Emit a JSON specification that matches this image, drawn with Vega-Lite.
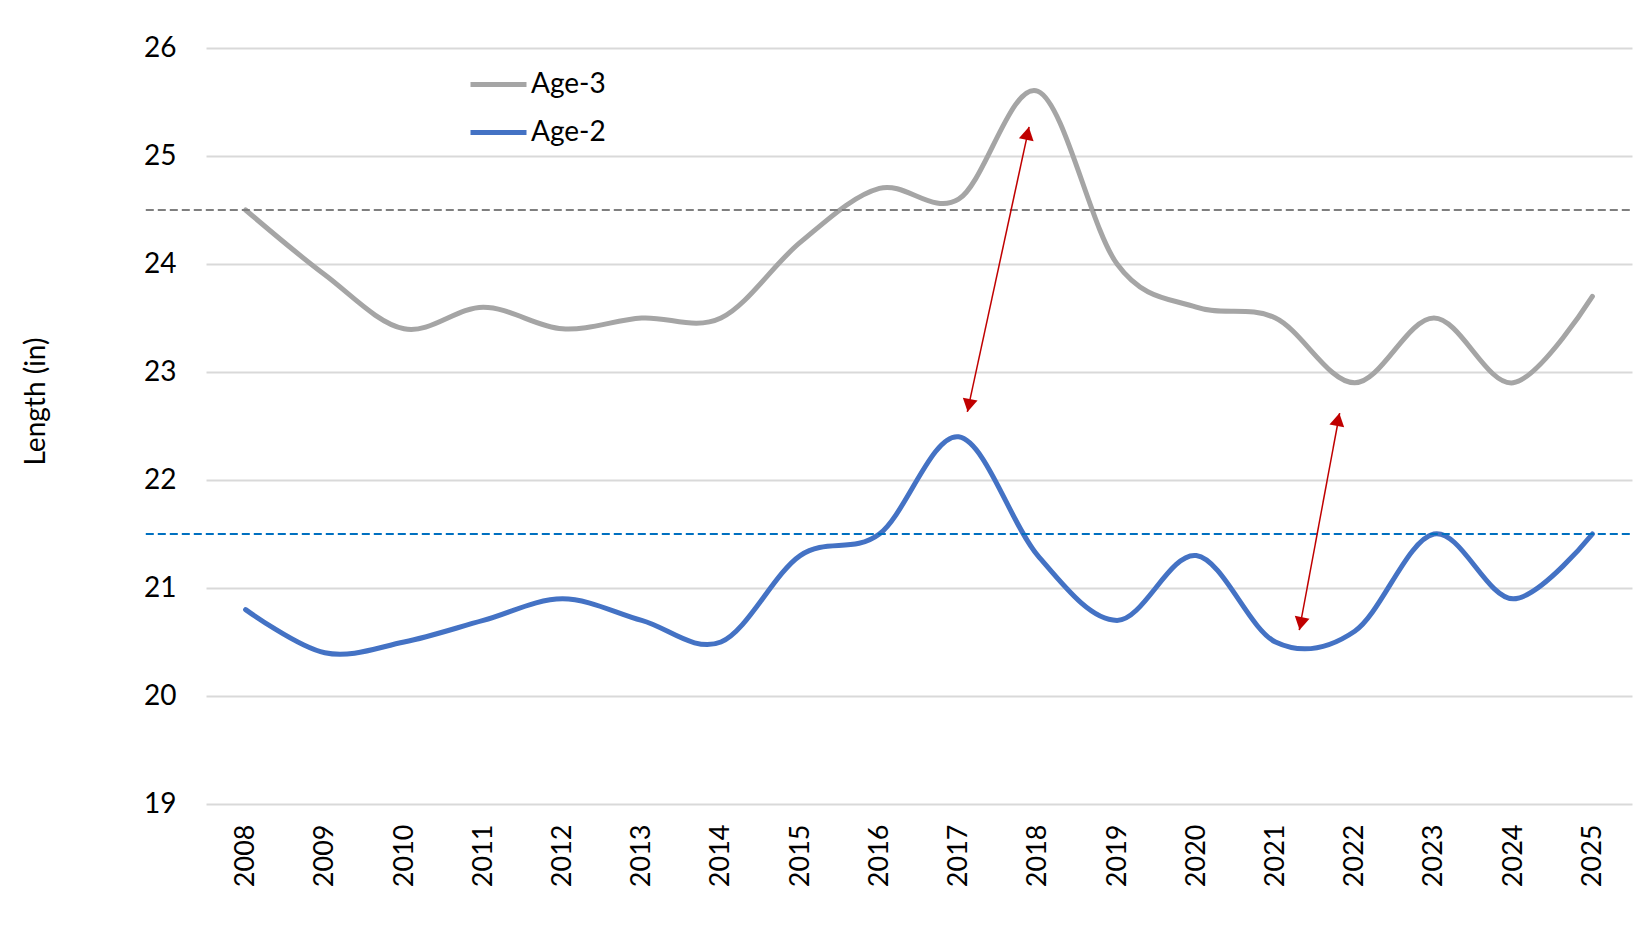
{
  "$schema": "https://vega.github.io/schema/vega-lite/v6.json",
  "width": 1426,
  "height": 756,
  "autosize": {"type": "none"},
  "padding": {"left": 206, "top": 48, "right": 2, "bottom": 142},
  "background": "white",
  "config": {"view": {"stroke": null}, "font": "Lato"},
  "datasets": {
    "main": [
      {"year": 2008, "series": "Age-3", "length": 24.5},
      {"year": 2009, "series": "Age-3", "length": 23.9},
      {"year": 2010, "series": "Age-3", "length": 23.4},
      {"year": 2011, "series": "Age-3", "length": 23.6},
      {"year": 2012, "series": "Age-3", "length": 23.4},
      {"year": 2013, "series": "Age-3", "length": 23.5},
      {"year": 2014, "series": "Age-3", "length": 23.5},
      {"year": 2015, "series": "Age-3", "length": 24.2},
      {"year": 2016, "series": "Age-3", "length": 24.7},
      {"year": 2017, "series": "Age-3", "length": 24.6},
      {"year": 2018, "series": "Age-3", "length": 25.6},
      {"year": 2019, "series": "Age-3", "length": 24.0},
      {"year": 2020, "series": "Age-3", "length": 23.6},
      {"year": 2021, "series": "Age-3", "length": 23.5},
      {"year": 2022, "series": "Age-3", "length": 22.9},
      {"year": 2023, "series": "Age-3", "length": 23.5},
      {"year": 2024, "series": "Age-3", "length": 22.9},
      {"year": 2025, "series": "Age-3", "length": 23.7},
      {"year": 2008, "series": "Age-2", "length": 20.8},
      {"year": 2009, "series": "Age-2", "length": 20.4},
      {"year": 2010, "series": "Age-2", "length": 20.5},
      {"year": 2011, "series": "Age-2", "length": 20.7},
      {"year": 2012, "series": "Age-2", "length": 20.9},
      {"year": 2013, "series": "Age-2", "length": 20.7},
      {"year": 2014, "series": "Age-2", "length": 20.5},
      {"year": 2015, "series": "Age-2", "length": 21.3},
      {"year": 2016, "series": "Age-2", "length": 21.5},
      {"year": 2017, "series": "Age-2", "length": 22.4},
      {"year": 2018, "series": "Age-2", "length": 21.3},
      {"year": 2019, "series": "Age-2", "length": 20.7},
      {"year": 2020, "series": "Age-2", "length": 21.3},
      {"year": 2021, "series": "Age-2", "length": 20.5},
      {"year": 2022, "series": "Age-2", "length": 20.6},
      {"year": 2023, "series": "Age-2", "length": 21.5},
      {"year": 2024, "series": "Age-2", "length": 20.9},
      {"year": 2025, "series": "Age-2", "length": 21.5}
    ],
    "averages": [
      {"series": "Age-3", "value": 24.5, "from": 2006.74, "to": 2025.5},
      {"series": "Age-2", "value": 21.5, "from": 2006.74, "to": 2025.5}
    ],
    "arrows": [
      {"x": 2017.11, "y": 22.63, "x2": 2017.89, "y2": 25.27},
      {"x": 2021.3, "y": 20.61, "x2": 2021.81, "y2": 22.62}
    ],
    "heads": [
      {"x": 2017.13, "y": 22.69, "end": "start"},
      {"x": 2017.87, "y": 25.21, "end": "end"},
      {"x": 2021.32, "y": 20.67, "end": "start"},
      {"x": 2021.79, "y": 22.56, "end": "end"}
    ]
  },
  "layer": [
    {
      "data": {"name": "main"},
      "mark": {"type": "line", "interpolate": "cardinal", "strokeWidth": 5, "strokeCap": "round"},
      "encoding": {
        "x": {
          "field": "year", "type": "quantitative",
          "scale": {"domain": [2007.5, 2025.5], "nice": false, "zero": false},
          "axis": {
            "title": null, "values": [2008,2009,2010,2011,2012,2013,2014,2015,2016,2017,2018,2019,2020,2021,2022,2023,2024,2025],
            "format": "d", "labelAngle": -90, "labelAlign": "right", "labelBaseline": "middle",
            "labelFontSize": 27, "labelColor": "#000000", "labelPadding": 20, "labelFlush": false, "labelOverlap": false,
            "grid": false, "ticks": false, "domain": false
          }
        },
        "y": {
          "field": "length", "type": "quantitative",
          "scale": {"domain": [19, 26], "nice": false, "zero": false},
          "axis": {
            "title": "Length (in)", "values": [19,20,21,22,23,24,25,26], "format": "d",
            "labelFontSize": 28, "labelColor": "#000000", "labelPadding": 30,
            "grid": true, "gridColor": "#D9D9D9", "gridWidth": 2,
            "ticks": false, "domain": false,
            "titleFontSize": 28, "titleFontWeight": "normal", "titleColor": "#000000",
            "titleX": -170, "titleY": 353, "titleAngle": -90, "titleAlign": "center", "titleBaseline": "middle"
          }
        },
        "color": {
          "field": "series", "type": "nominal",
          "scale": {"domain": ["Age-3", "Age-2"], "range": ["#A5A5A5", "#4472C4"]},
          "legend": {
            "title": null, "orient": "none", "legendX": 290, "legendY": 20, "padding": 0,
            "symbolType": "M-3,0H1", "symbolSize": 784, "symbolStrokeWidth": 5,
            "labelFontSize": 28, "labelColor": "#000000", "labelOffset": 2, "rowPadding": 17
          }
        }
      }
    },
    {
      "data": {"name": "averages"},
      "transform": [{"filter": "datum.series === 'Age-3'"}],
      "mark": {"type": "rule", "color": "#7F7F7F", "strokeWidth": 2, "strokeDash": [8, 4]},
      "encoding": {
        "x": {"field": "from", "type": "quantitative"},
        "x2": {"field": "to"},
        "y": {"field": "value", "type": "quantitative"}
      }
    },
    {
      "data": {"name": "averages"},
      "transform": [{"filter": "datum.series === 'Age-2'"}],
      "mark": {"type": "rule", "color": "#0070C0", "strokeWidth": 2, "strokeDash": [8, 4]},
      "encoding": {
        "x": {"field": "from", "type": "quantitative"},
        "x2": {"field": "to"},
        "y": {"field": "value", "type": "quantitative"}
      }
    },
    {
      "data": {"name": "arrows"},
      "mark": {"type": "rule", "color": "#C00000", "strokeWidth": 1.5},
      "encoding": {
        "x": {"field": "x", "type": "quantitative"},
        "x2": {"field": "x2"},
        "y": {"field": "y", "type": "quantitative"},
        "y2": {"field": "y2"}
      }
    },
    {
      "data": {"name": "heads"},
      "mark": {"type": "point", "filled": true, "color": "#C00000", "opacity": 1, "size": 225, "angle": 11.4, "strokeWidth": 0},
      "encoding": {
        "x": {"field": "x", "type": "quantitative"},
        "y": {"field": "y", "type": "quantitative"},
        "shape": {
          "field": "end", "type": "nominal",
          "scale": {"domain": ["start", "end"], "range": ["triangle-down", "triangle-up"]},
          "legend": null
        }
      }
    }
  ]
}
